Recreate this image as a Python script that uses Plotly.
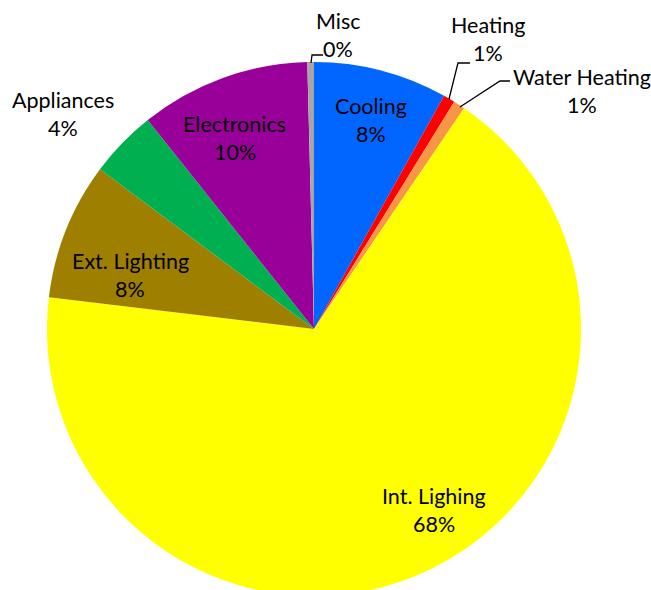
import plotly.graph_objects as go

W, H = 651, 600  # figure is a bit taller than the 590px window; the pie runs off the bottom

# slice data, clockwise from 12 o'clock
categories = ["Cooling", "Heating", "Water Heating", "Int. Lighing",
              "Ext. Lighting", "Appliances", "Electronics", "Misc"]
shares = [8.1, 0.7, 0.7, 67.4, 8.3, 4.1, 10.3, 0.4]
pct_labels = ["8%", "1%", "1%", "68%", "8%", "4%", "10%", "0%"]
colors = ["#0066FF", "#FF0000", "#F79646", "#FFFF00",
          "#9F7F00", "#00B050", "#990099", "#A6A6A6"]

# label centres in screen pixels (first line); second line sits below
label_px = {
    "Cooling": (371, 106), "Heating": (488, 25), "Water Heating": (582, 77),
    "Int. Lighing": (434, 496), "Ext. Lighting": (130, 261),
    "Appliances": (63, 100), "Electronics": (235, 124), "Misc": (338, 21),
}
line_gap = 28

# leader lines (screen pixels)
leaders = [
    [(311, 63), (312, 55), (323, 55)],
    [(449, 99), (458, 63), (470, 63)],
    [(460, 107), (500, 81), (510, 81)],
]


def px(x, y):
    return x / W, 1 - y / H


cx, cy, r = 314, 329, 267
x0, y0 = px(cx - r, cy + r)
x1, y1 = px(cx + r, cy - r)

fig = go.Figure(go.Pie(
    labels=categories,
    values=shares,
    sort=False,
    direction="clockwise",
    rotation=0,
    marker=dict(colors=colors, line=dict(width=0)),
    textinfo="none",
    hoverinfo="label+percent",
    domain=dict(x=[x0, x1], y=[max(y0, 0), y1]),
    showlegend=False,
))

font = dict(family="Lato, Open Sans, sans-serif", size=21.5, color="#000000")
for cat, pct in zip(categories, pct_labels):
    lx, ly = label_px[cat]
    for txt, dy in ((cat, 0), (pct, line_gap)):
        ax, ay = px(lx, ly + dy)
        fig.add_annotation(x=ax, y=ay, xref="paper", yref="paper", text=txt,
                           showarrow=False, font=font,
                           xanchor="center", yanchor="middle")

for pts in leaders:
    path = "M " + " L ".join("%.4f,%.4f" % px(x, y) for x, y in pts)
    fig.add_shape(type="path", path=path, xref="paper", yref="paper",
                  line=dict(color="#000000", width=1.3))

fig.update_layout(
    width=W, height=H,
    margin=dict(l=0, r=0, t=0, b=0),
    paper_bgcolor="white",
    plot_bgcolor="white",
)

# drop the default body margin so the chart sits at the window's corner
fig.write_html(
    "out.html",
    config={"displayModeBar": False},
    post_script="document.body.style.margin='0';document.body.style.overflow='hidden';",
)
